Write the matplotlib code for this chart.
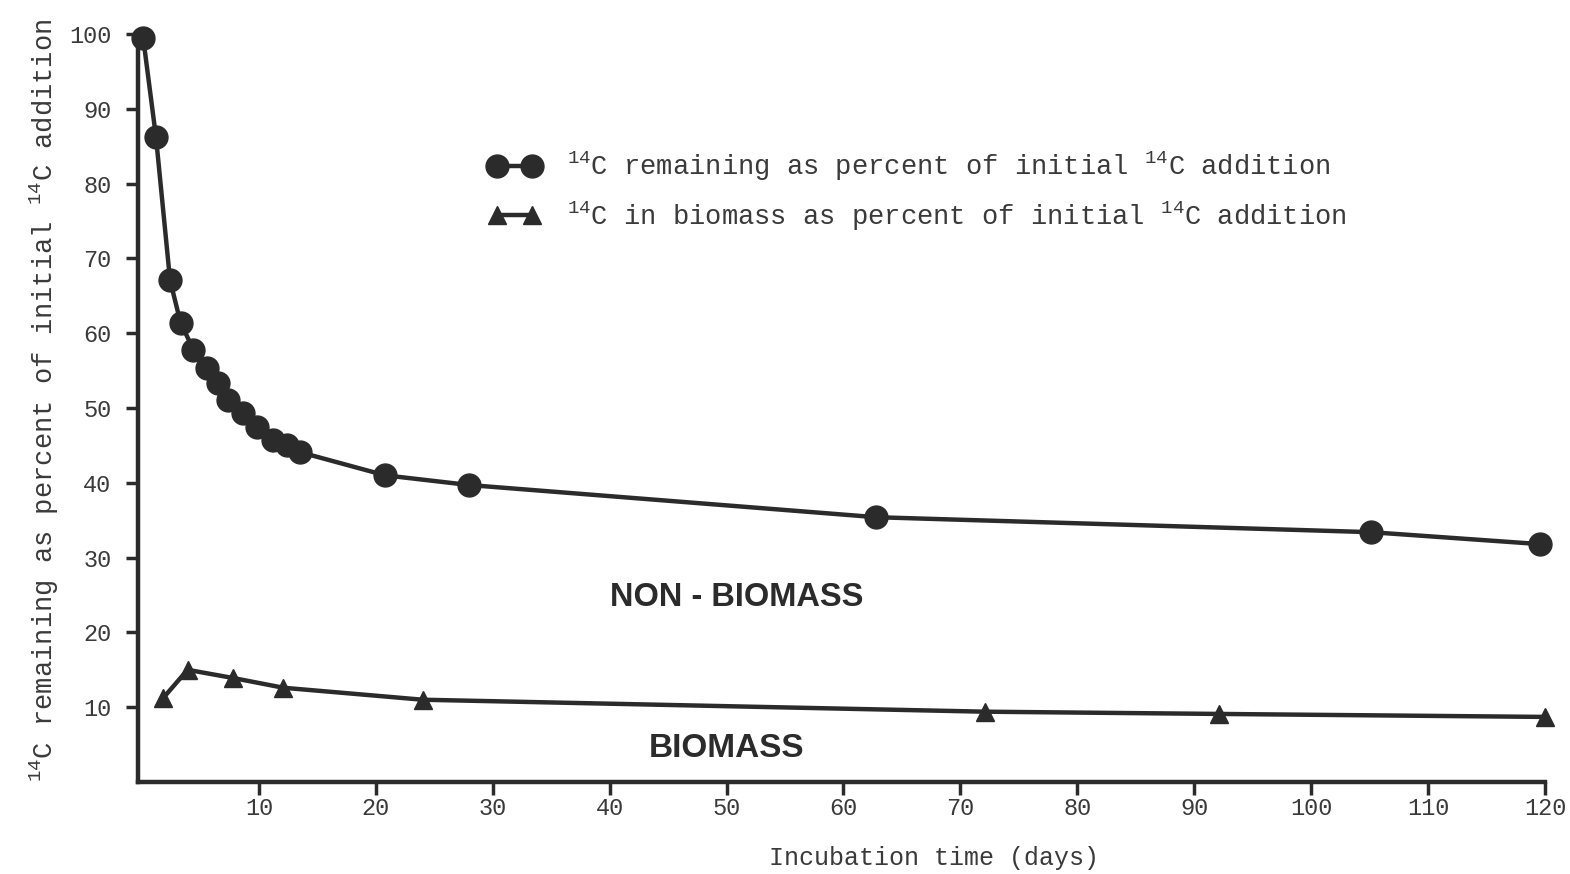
import matplotlib.pyplot as plt

# 14C remaining (total) - circles
days_total = [0.1, 1.2, 2.4, 3.3, 4.4, 5.6, 6.5, 7.4, 8.6, 9.8, 11.2, 12.4, 13.5,
              20.8, 28.0, 62.8, 105.1, 119.6]
pct_total = [99.5, 86.2, 67.1, 61.4, 57.8, 55.3, 53.3, 51.1, 49.3, 47.5, 45.7, 45.1, 44.1,
             41.0, 39.7, 35.4, 33.4, 31.8]

# 14C in biomass - triangles
days_biomass = [1.8, 3.9, 7.8, 12.1, 24.0, 72.1, 92.1, 120.0]
pct_biomass = [11.2, 15.0, 13.9, 12.6, 11.0, 9.4, 9.1, 8.7]

x_ticks = [10, 20, 30, 40, 50, 60, 70, 80, 90, 100, 110, 120]
y_ticks = [10, 20, 30, 40, 50, 60, 70, 80, 90, 100]

INK = "#2b2b2b"
TXT = "#3a3a3a"

plt.rcParams["font.family"] = ["Liberation Mono", "DejaVu Sans Mono"]
plt.rcParams["mathtext.fontset"] = "custom"
plt.rcParams["mathtext.rm"] = "Liberation Mono"
plt.rcParams["mathtext.it"] = "Liberation Mono"


def main() -> None:
    fig = plt.figure(figsize=(15.7, 8.74), dpi=100)
    ax = fig.add_axes([138 / 1570, 1 - 782 / 874, (1545 - 138) / 1570, (782 - 34) / 874])

    ax.plot(days_total, pct_total, color=INK, lw=3.2, marker="o", ms=16.5, clip_on=False,
            label=r"$^{14}$C remaining as percent of initial $^{14}$C addition")
    ax.plot(days_biomass, pct_biomass, color=INK, lw=3.2, marker="^", ms=13.5, clip_on=False,
            label=r"$^{14}$C in biomass as percent of initial $^{14}$C addition")

    ax.set_xlim(-0.34, 120)
    ax.set_ylim(0, 100)
    ax.set_xticks(x_ticks)
    ax.set_yticks(y_ticks)
    ax.tick_params(axis="both", direction="out", length=9, width=2.5, color=INK,
                   labelsize=17, labelcolor=TXT)
    ax.tick_params(axis="x", pad=2)
    ax.tick_params(axis="y", pad=10)

    for side in ("top", "right"):
        ax.spines[side].set_visible(False)
    for side in ("left", "bottom"):
        ax.spines[side].set_linewidth(3.2)
        ax.spines[side].set_color(INK)

    ax.set_xlabel("Incubation time (days)", fontsize=18, color=TXT)
    ax.xaxis.set_label_coords(0.566, -0.086)
    ax.set_ylabel(r"$^{14}$C remaining as percent of initial $^{14}$C addition",
                  fontsize=19.5, color=TXT)
    ax.yaxis.set_label_coords(-0.055, 0.51)

    ax.text(50.9, 24.6, "NON - BIOMASS", fontsize=23.5, fontweight="bold",
            family="Liberation Sans", color=INK, ha="center", va="center")
    ax.text(50.0, 4.5, "BIOMASS", fontsize=24, fontweight="bold",
            family="Liberation Sans", color=INK, ha="center", va="center")

    ax.legend(loc="upper left", bbox_to_anchor=(0.232, 0.877), frameon=False,
              numpoints=2, handlelength=1.9, handletextpad=1.0, labelspacing=0.6,
              fontsize=19.5, labelcolor=TXT)

    fig.savefig("out.png", dpi=100)


if __name__ == "__main__":
    main()
